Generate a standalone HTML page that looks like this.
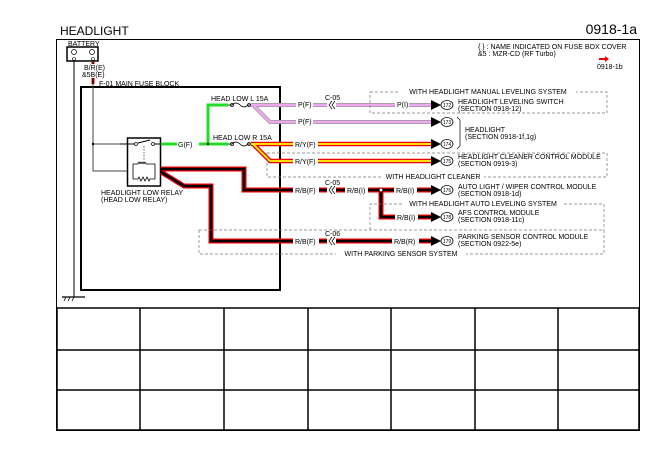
<!DOCTYPE html>
<html><head><meta charset="utf-8"><style>
html,body{margin:0;padding:0;background:#fff;}
svg{display:block;font-family:"Liberation Sans",sans-serif;}
.t{font-size:7px;fill:#000;}
</style></head><body>
<svg width="669" height="473" viewBox="0 0 669 473" xmlns="http://www.w3.org/2000/svg">
<text x="60" y="35" font-size="12">HEADLIGHT</text>
<text x="637" y="34" font-size="14" text-anchor="end">0918-1a</text>
<rect x="56.5" y="39.5" width="583" height="391" fill="none" stroke="#000" stroke-width="1"/>
<text class="t" x="478" y="49" font-size="6.5">{ } : NAME INDICATED ON FUSE BOX COVER</text>
<text class="t" x="478" y="56" font-size="6.5">&amp;5 : MZR-CD (RF Turbo)</text>
<path d="M599,58 h6 v-2 l4,3 l-4,3 v-2 h-6z" fill="#e00"/>
<text class="t" x="597" y="69">0918-1b</text>

<!-- battery -->
<text class="t" x="68" y="46">BATTERY</text>
<rect x="67" y="47" width="31" height="14" fill="#fff" stroke="#000" stroke-width="1.5"/>
<circle cx="74" cy="52" r="2.5" fill="none" stroke="#000" stroke-width="0.7"/>
<circle cx="92" cy="52" r="2.5" fill="none" stroke="#000" stroke-width="0.7"/>
<circle cx="74" cy="59" r="1.5" fill="none" stroke="#000" stroke-width="0.6"/>
<circle cx="93" cy="59" r="1.5" fill="none" stroke="#000" stroke-width="0.6"/>
<line x1="74" y1="61" x2="74" y2="297" stroke="#000" stroke-width="1"/>
<line x1="93" y1="62" x2="93" y2="84" stroke="#e00" stroke-width="3"/>
<line x1="93" y1="62" x2="93" y2="84" stroke="#000" stroke-width="1"/>
<rect x="83" y="64" width="24" height="14" fill="#fff"/>
<text class="t" x="84" y="70">B/R(E)</text>
<text class="t" x="82" y="77">&amp;5B(E)</text>
<text class="t" x="99" y="86">F-01 MAIN FUSE BLOCK</text>
<!-- ground -->
<line x1="62" y1="297" x2="85" y2="297" stroke="#000" stroke-width="1.2"/>
<path d="M64,301 l2,-4 M68,301 l2,-4 M72,301 l2,-4" stroke="#000" stroke-width="0.8"/>

<!-- inner box -->
<rect x="81" y="87" width="199" height="203" fill="none" stroke="#000" stroke-width="2"/>
<path d="M93,84 V171 H128 M93,144 H128" fill="none" stroke="#444" stroke-width="1"/>
<circle cx="93" cy="144" r="1.2" fill="#000"/>

<!-- relay -->
<rect x="127.5" y="138" width="33" height="48" fill="#fff" stroke="#000" stroke-width="1.5"/>
<path d="M120,144 H135 M138,143 L150,140 M153,144 H161" stroke="#000" stroke-width="1" fill="none"/>
<circle cx="136" cy="144" r="1.5" fill="#fff" stroke="#000" stroke-width="0.7"/>
<circle cx="153" cy="144" r="1.5" fill="#fff" stroke="#000" stroke-width="0.7"/>
<line x1="144" y1="146" x2="144" y2="160" stroke="#000" stroke-width="0.6" stroke-dasharray="1.5,1.5"/>
<path d="M133,171 V164 H138 q1,-4 2,0 q1,-4 2,0 q1,-4 2,0 q1,-4 2,0 H155 V171 M133,171 V179 H138 l1,-2 l2,4 l2,-4 l2,4 l2,-4 l2,4 l1,-2 H155 V171" fill="none" stroke="#000" stroke-width="0.8"/>
<text class="t" x="101" y="195">HEADLIGHT LOW RELAY</text>
<text class="t" x="101" y="202">(HEAD LOW RELAY)</text>

<!-- green -->
<path d="M161,144 H228 M208,144 V105 H228" fill="none" stroke="#2d2" stroke-width="3"/>
<rect x="177" y="140" width="22" height="8" fill="#fff"/>
<text class="t" x="178" y="147">G(F)</text>
<circle cx="208" cy="144" r="1.2" fill="#000"/>
<!-- fuses -->
<text class="t" x="211" y="101">HEAD LOW L 15A</text>
<text class="t" x="213" y="140">HEAD LOW R 15A</text>
<g fill="none" stroke="#000" stroke-width="0.8">
<path d="M228,105 h4 q4,-4 8,0 q4,4 8,0 h2"/><circle cx="232" cy="105" r="1.5"/><circle cx="249" cy="105" r="1.5"/>
<path d="M228,144 h4 q4,-4 8,0 q4,4 8,0 h2"/><circle cx="232" cy="144" r="1.5"/><circle cx="249" cy="144" r="1.5"/>
</g>

<g fill="none" stroke-linejoin="miter">
<path d="M251,105 H433 M253,105 L270,122 H433" stroke="#999" stroke-width="4"/>
<path d="M251,105 H433 M253,105 L270,122 H433" stroke="#f0a8f0" stroke-width="2.5"/>
<path d="M251,144 H433 M253,144 L270,161 H433" stroke="#e00" stroke-width="4.5"/>
<path d="M251,144 H433 M253,144 L270,161 H433" stroke="#ff0" stroke-width="1.8"/>
<path d="M161,169 H244 V190 H433 M381,190 V217 H433 M161,172 L184,186 H211 V241 H433" stroke="#e00" stroke-width="5"/>
<path d="M161,169 H244 V190 H433 M381,190 V217 H433 M161,172 L184,186 H211 V241 H433" stroke="#000" stroke-width="2.5"/>
</g>
<circle cx="381" cy="190" r="1.8" fill="#fff" stroke="#000" stroke-width="0.7"/>

<g fill="none" stroke="#777" stroke-width="0.7" stroke-dasharray="3,2">
<rect x="370" y="92" width="237" height="21"/>
<rect x="267" y="153" width="340" height="24"/>
<path d="M370,230 V204 H604 V230"/>
<rect x="199" y="230" width="405" height="24"/>
</g>
<g class="t" text-anchor="middle">
<rect x="400" y="88" width="176" height="7" fill="#fff"/>
<text x="488" y="94">WITH HEADLIGHT MANUAL LEVELING SYSTEM</text>
<rect x="382" y="173" width="102" height="7" fill="#fff"/>
<text x="433" y="179">WITH HEADLIGHT CLEANER</text>
<rect x="403" y="200" width="160" height="7" fill="#fff"/>
<text x="483" y="206">WITH HEADLIGHT AUTO LEVELING SYSTEM</text>
<rect x="336" y="250" width="130" height="7" fill="#fff"/>
<text x="401" y="256">WITH PARKING SENSOR SYSTEM</text>
</g>

<g class="t">
<rect x="296" y="101" width="17" height="7" fill="#fff"/><text x="298" y="107">P(F)</text>
<rect x="395" y="101" width="14" height="7" fill="#fff"/><text x="397" y="107">P(I)</text>
<rect x="296" y="118" width="17" height="7" fill="#fff"/><text x="298" y="124">P(F)</text>
<rect x="293" y="140" width="25" height="7" fill="#fff"/><text x="295" y="147">R/Y(F)</text>
<rect x="293" y="157" width="25" height="7" fill="#fff"/><text x="295" y="164">R/Y(F)</text>
<rect x="293" y="186" width="26" height="8" fill="#fff"/><text x="295" y="193">R/B(F)</text>
<rect x="345" y="186" width="23" height="8" fill="#fff"/><text x="347" y="193">R/B(I)</text>
<rect x="394" y="186" width="23" height="8" fill="#fff"/><text x="396" y="193">R/B(I)</text>
<rect x="395" y="213" width="23" height="8" fill="#fff"/><text x="397" y="220">R/B(I)</text>
<rect x="293" y="237" width="26" height="8" fill="#fff"/><text x="295" y="244">R/B(F)</text>
<rect x="392" y="237" width="27" height="8" fill="#fff"/><text x="394" y="244">R/B(R)</text>
<text x="325" y="100">C-05</text>
<text x="325" y="185">C-05</text>
<text x="325" y="236">C-06</text>
</g>
<g fill="none" stroke="#000" stroke-width="0.7">
<rect x="327" y="101" width="9" height="8" fill="#fff" stroke="none"/>
<path d="M332,101 l-3,4 l3,4 M335,101 l-3,4 l3,4"/>
<rect x="327" y="186" width="9" height="8" fill="#fff" stroke="none"/>
<path d="M332,186 l-3,4 l3,4 M335,186 l-3,4 l3,4"/>
<rect x="327" y="237" width="9" height="8" fill="#fff" stroke="none"/>
<path d="M332,237 l-3,4 l3,4 M335,237 l-3,4 l3,4"/>
</g>

<g>
<path d="M431,100 L441,105 L431,110Z M431,117 L441,122 L431,127Z M431,139 L441,144 L431,149Z M431,156 L441,161 L431,166Z M431,185 L441,190 L431,195Z M431,212 L441,217 L431,222Z M431,236 L441,241 L431,246Z" fill="#000"/>
<g fill="#fff" stroke="#000" stroke-width="0.8">
<ellipse cx="447" cy="105" rx="6" ry="4.5"/><ellipse cx="447" cy="122" rx="6" ry="4.5"/>
<ellipse cx="447" cy="144" rx="6" ry="4.5"/><ellipse cx="447" cy="161" rx="6" ry="4.5"/>
<ellipse cx="447" cy="190" rx="6" ry="4.5"/><ellipse cx="447" cy="217" rx="6" ry="4.5"/>
<ellipse cx="447" cy="241" rx="6" ry="4.5"/>
</g>
<g font-size="5" text-anchor="middle">
<text x="447" y="107">172</text><text x="447" y="124">173</text><text x="447" y="146">174</text>
<text x="447" y="163">175</text><text x="447" y="192">176</text><text x="447" y="219">178</text><text x="447" y="243">179</text>
</g>
</g>
<path d="M457,117 l3,3 V146 l-3,3" fill="none" stroke="#000" stroke-width="0.7"/>
<g class="t">
<text x="458" y="104">HEADLIGHT LEVELING SWITCH</text><text x="458" y="111">(SECTION 0918-12)</text>
<text x="465" y="132">HEADLIGHT</text><text x="465" y="139">(SECTION 0918-1f,1g)</text>
<text x="458" y="159">HEADLIGHT CLEANER CONTROL MODULE</text><text x="458" y="166">(SECTION 0919-3)</text>
<text x="458" y="189">AUTO LIGHT / WIPER CONTROL MODULE</text><text x="458" y="196">(SECTION 0918-1d)</text>
<text x="458" y="215">AFS CONTROL MODULE</text><text x="458" y="222">(SECTION 0918-11c)</text>
<text x="458" y="239">PARKING SENSOR CONTROL MODULE</text><text x="458" y="246">(SECTION 0922-5e)</text>
</g>

<g fill="none" stroke="#000" stroke-width="1.5">
<rect x="57" y="308" width="582" height="122"/>
<path d="M57,350 H639 M57,390 H639 M140,308 V430 M224,308 V430 M308,308 V430 M391,308 V430 M475,308 V430 M558,308 V430"/>
</g>
</svg>
</body></html>
